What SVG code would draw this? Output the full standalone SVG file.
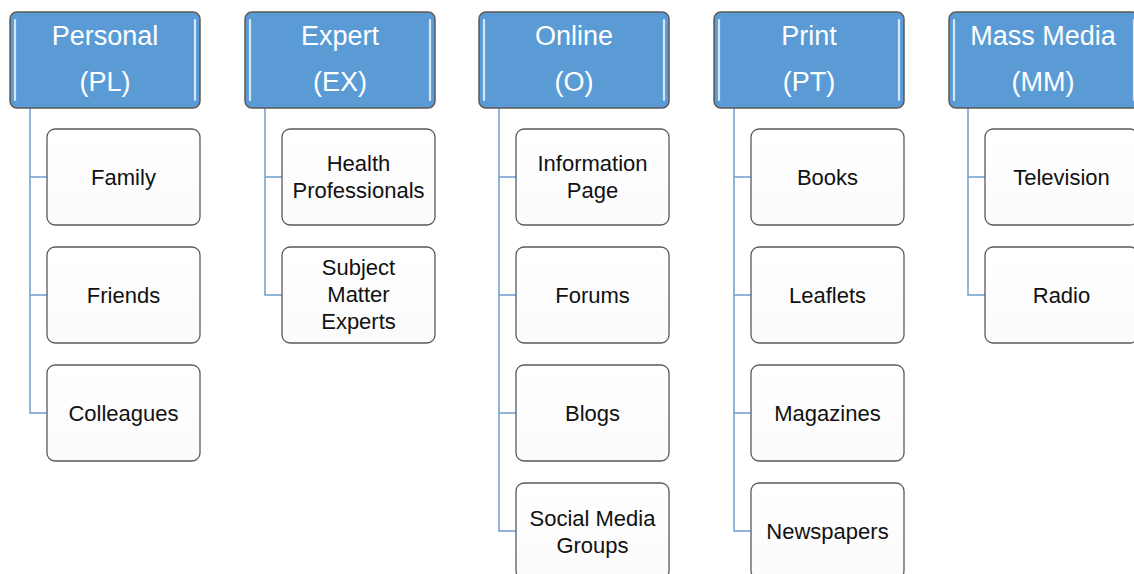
<svg xmlns="http://www.w3.org/2000/svg" width="1134" height="574" viewBox="0 0 1134 574">
<defs>
<style>
.hdr{fill:#5B9BD5;stroke:#5a5a5a;stroke-width:1.5}
.hl{stroke:#d4e6f7;stroke-width:2.2;stroke-linecap:round}
.ch{fill:url(#cg);stroke:#5a5a5a;stroke-width:1.3}
.ht{font-family:"Liberation Sans",Arial,sans-serif;font-size:27px;fill:#ffffff;text-anchor:middle}
.ct{font-family:"Liberation Sans",Arial,sans-serif;font-size:22px;fill:#111111;text-anchor:middle}
.cn{fill:none;stroke:#6f9fd0;stroke-width:1.5}
</style>
<linearGradient id="cg" x1="0" y1="0" x2="0" y2="1">
<stop offset="0" stop-color="#ffffff"/>
<stop offset="1" stop-color="#fbfbfb"/>
</linearGradient>
</defs>
<rect width="1134" height="574" fill="#ffffff"/>
<g id="connectors">
<path class="cn" d="M30,108 V413 H47 M30,177 H47 M30,295 H47"/>
<path class="cn" d="M265,108 V295 H282 M265,177 H282"/>
<path class="cn" d="M499,108 V531 H516 M499,177 H516 M499,295 H516 M499,413 H516"/>
<path class="cn" d="M734,108 V531 H751 M734,177 H751 M734,295 H751 M734,413 H751"/>
<path class="cn" d="M968,108 V295 H985 M968,177 H985"/>
</g>
<g id="personal">
<rect class="hdr" x="10" y="12" width="190" height="96" rx="7"/>
<line class="hl" x1="15" y1="20" x2="15" y2="100"/><line class="hl" x1="195" y1="20" x2="195" y2="100"/>
<text class="ht" x="105" y="45">Personal</text><text class="ht" x="105" y="91">(PL)</text>
</g>
<g id="expert">
<rect class="hdr" x="245" y="12" width="190" height="96" rx="7"/>
<line class="hl" x1="250" y1="20" x2="250" y2="100"/><line class="hl" x1="430" y1="20" x2="430" y2="100"/>
<text class="ht" x="340" y="45">Expert</text><text class="ht" x="340" y="91">(EX)</text>
</g>
<g id="online">
<rect class="hdr" x="479" y="12" width="190" height="96" rx="7"/>
<line class="hl" x1="484" y1="20" x2="484" y2="100"/><line class="hl" x1="664" y1="20" x2="664" y2="100"/>
<text class="ht" x="574" y="45">Online</text><text class="ht" x="574" y="91">(O)</text>
</g>
<g id="print">
<rect class="hdr" x="714" y="12" width="190" height="96" rx="7"/>
<line class="hl" x1="719" y1="20" x2="719" y2="100"/><line class="hl" x1="899" y1="20" x2="899" y2="100"/>
<text class="ht" x="809" y="45">Print</text><text class="ht" x="809" y="91">(PT)</text>
</g>
<g id="massmedia">
<rect class="hdr" x="949" y="12" width="190" height="96" rx="7"/>
<line class="hl" x1="954" y1="20" x2="954" y2="100"/><line class="hl" x1="1134" y1="20" x2="1134" y2="100"/>
<text class="ht" x="1043" y="45">Mass Media</text><text class="ht" x="1043" y="91">(MM)</text>
</g>
<g id="family"><rect class="ch" x="47" y="129" width="153" height="96" rx="8"/><text class="ct" x="123.5" y="185">Family</text></g>
<g id="friends"><rect class="ch" x="47" y="247" width="153" height="96" rx="8"/><text class="ct" x="123.5" y="303">Friends</text></g>
<g id="colleagues"><rect class="ch" x="47" y="365" width="153" height="96" rx="8"/><text class="ct" x="123.5" y="421">Colleagues</text></g>
<g id="health"><rect class="ch" x="282" y="129" width="153" height="96" rx="8"/><text class="ct" x="358.5" y="171">Health</text><text class="ct" x="358.5" y="198">Professionals</text></g>
<g id="sme"><rect class="ch" x="282" y="247" width="153" height="96" rx="8"/><text class="ct" x="358.5" y="275">Subject</text><text class="ct" x="358.5" y="302">Matter</text><text class="ct" x="358.5" y="329">Experts</text></g>
<g id="infopage"><rect class="ch" x="516" y="129" width="153" height="96" rx="8"/><text class="ct" x="592.5" y="171">Information</text><text class="ct" x="592.5" y="198">Page</text></g>
<g id="forums"><rect class="ch" x="516" y="247" width="153" height="96" rx="8"/><text class="ct" x="592.5" y="303">Forums</text></g>
<g id="blogs"><rect class="ch" x="516" y="365" width="153" height="96" rx="8"/><text class="ct" x="592.5" y="421">Blogs</text></g>
<g id="social"><rect class="ch" x="516" y="483" width="153" height="96" rx="8"/><text class="ct" x="592.5" y="526">Social Media</text><text class="ct" x="592.5" y="553">Groups</text></g>
<g id="books"><rect class="ch" x="751" y="129" width="153" height="96" rx="8"/><text class="ct" x="827.5" y="185">Books</text></g>
<g id="leaflets"><rect class="ch" x="751" y="247" width="153" height="96" rx="8"/><text class="ct" x="827.5" y="303">Leaflets</text></g>
<g id="magazines"><rect class="ch" x="751" y="365" width="153" height="96" rx="8"/><text class="ct" x="827.5" y="421">Magazines</text></g>
<g id="newspapers"><rect class="ch" x="751" y="483" width="153" height="96" rx="8"/><text class="ct" x="827.5" y="539">Newspapers</text></g>
<g id="television"><rect class="ch" x="985" y="129" width="153" height="96" rx="8"/><text class="ct" x="1061.5" y="185">Television</text></g>
<g id="radio"><rect class="ch" x="985" y="247" width="153" height="96" rx="8"/><text class="ct" x="1061.5" y="303">Radio</text></g>
</svg>
